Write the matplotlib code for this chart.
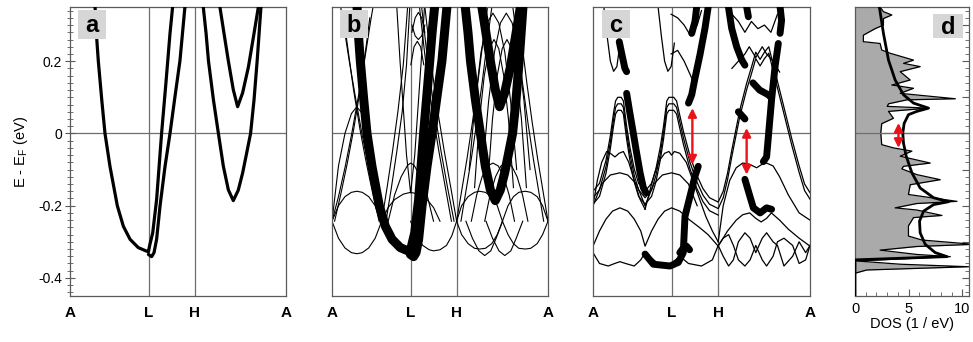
import numpy as np
import matplotlib
matplotlib.use("Agg")
import matplotlib.pyplot as plt
from matplotlib.ticker import MultipleLocator
from matplotlib.patches import Rectangle

plt.rcParams['font.family'] = ['Liberation Sans', 'DejaVu Sans']

K_L, K_H = 0.364, 0.577
PATH_TICKS = [0.0, K_L, K_H, 1.0]
PATH_LABELS = ["A", "L", "H", "A"]
YLIM = (-0.45, 0.35)

# unperturbed bands (panel a, bold bands of panel b): (k, E)
BANDS_A = [
    ([0.116, 0.122, 0.131, 0.147, 0.162, 0.185, 0.219, 0.247, 0.278, 0.316, 0.355, 0.363,
      0.370, 0.383, 0.401, 0.424, 0.444, 0.463, 0.475],
     [0.350, 0.277, 0.201, 0.093, 0.000, -0.091, -0.200, -0.257, -0.293, -0.316, -0.326, -0.327,
      -0.307, -0.275, -0.183, 0.000, 0.139, 0.277, 0.350]),
    ([0.363, 0.378, 0.389, 0.401, 0.417, 0.440, 0.463, 0.486, 0.509, 0.532],
     [-0.335, -0.341, -0.330, -0.293, -0.200, -0.091, 0.000, 0.102, 0.201, 0.350]),
    ([0.617, 0.630, 0.641, 0.664, 0.687, 0.710, 0.733, 0.756, 0.779, 0.799, 0.818, 0.836, 0.852, 0.867, 0.884],
     [0.350, 0.277, 0.201, 0.093, 0.000, -0.091, -0.156, -0.186, -0.157, -0.110, -0.054, 0.000, 0.093, 0.205, 0.350]),
    ([0.694, 0.713, 0.733, 0.756, 0.776, 0.799, 0.826, 0.852, 0.872],
     [0.350, 0.277, 0.201, 0.121, 0.074, 0.112, 0.184, 0.277, 0.350]),
]

# folded supercell bands (panel b)
K9A = [0.0, 0.03, 0.06, 0.09, 0.115, 0.14, 0.17, 0.20, 0.23]
K9L = [0.23, 0.26, 0.29, 0.33, 0.364, 0.40, 0.44, 0.47, 0.50]
K9LH = [0.364, 0.39, 0.42, 0.45, 0.47, 0.50, 0.53, 0.555, 0.577]
K9R1 = [0.577, 0.60, 0.63, 0.66, 0.683, 0.71, 0.74, 0.765, 0.789]
K9R2 = [0.789, 0.815, 0.84, 0.865, 0.895, 0.92, 0.95, 0.975, 1.0]
BOWL = [-0.243, -0.29, -0.317, -0.33, -0.333, -0.33, -0.317, -0.29, -0.243]
BOWL_R = [-0.243, -0.28, -0.305, -0.318, -0.32, -0.318, -0.305, -0.28, -0.243]
CAP_LOW = [-0.243, -0.2, -0.175, -0.163, -0.16, -0.163, -0.175, -0.2, -0.243]
RISE_E = [-0.243, -0.16, -0.07, 0.03, 0.14, 0.26, 0.35]
STEEP_E = [-0.243, -0.15, -0.05, 0.06, 0.19, 0.35]
TOPCAP_E = [-0.1, 0.089, 0.225, 0.306, 0.333, 0.306, 0.225, 0.089, -0.1]
MIDCAP_E = [-0.15, 0.04, 0.16, 0.235, 0.26, 0.235, 0.16, 0.04, -0.15]
BANDS_B = [
    (K9A, BOWL), (K9A, CAP_LOW),
    (K9A, [-0.243, -0.09, 0.0, 0.055, 0.074, 0.055, 0.0, -0.09, -0.243]),
    ([0.0, 0.03, 0.06, 0.09, 0.12, 0.15, 0.18, 0.19], [-0.243, -0.175, -0.095, -0.005, 0.095, 0.2, 0.315, 0.35]),
    ([0.23, 0.2, 0.17, 0.14, 0.11, 0.08, 0.05, 0.04], [-0.243, -0.175, -0.095, -0.005, 0.095, 0.2, 0.315, 0.35]),
    ([0.012, 0.04, 0.07, 0.10, 0.13, 0.16, 0.175], [-0.243, -0.17, -0.085, 0.01, 0.12, 0.25, 0.32]),
    ([0.218, 0.19, 0.16, 0.13, 0.10, 0.07, 0.055], [-0.243, -0.17, -0.085, 0.01, 0.12, 0.25, 0.32]),
    (K9L, [-0.243, -0.205, -0.183, -0.168, -0.163, -0.168, -0.183, -0.205, -0.243]),
    ([0.26, 0.29, 0.32, 0.35, 0.364, 0.38, 0.41, 0.44, 0.47], [-0.243, -0.17, -0.12, -0.088, -0.082, -0.088, -0.12, -0.17, -0.243]),
    ([0.23, 0.255, 0.28, 0.305, 0.33, 0.35], STEEP_E),
    ([0.25, 0.275, 0.30, 0.325, 0.345, 0.36], STEEP_E),
    ([0.577, 0.55, 0.52, 0.49, 0.46, 0.43], STEEP_E),
    ([0.565, 0.535, 0.505, 0.475, 0.445, 0.415], STEEP_E),
    ([0.553, 0.525, 0.495, 0.465, 0.435, 0.405], STEEP_E),
    ([0.30, 0.315, 0.33, 0.345, 0.364, 0.383, 0.398, 0.413, 0.428], [0.35, 0.2, 0.07, -0.06, -0.165, -0.06, 0.07, 0.2, 0.35]),
    ([0.37, 0.385, 0.40, 0.415, 0.43], [0.28, 0.32, 0.335, 0.32, 0.28]),
    ([0.37, 0.385, 0.40, 0.415, 0.43], [0.30, 0.27, 0.26, 0.27, 0.30]),
    ([0.365, 0.38, 0.395, 0.41, 0.425], [0.19, 0.24, 0.255, 0.24, 0.19]),
    (K9LH, [-0.243, -0.283, -0.31, -0.322, -0.325, -0.322, -0.31, -0.283, -0.243]),
    (K9R1, BOWL_R), (K9R2, BOWL_R), (K9R1, CAP_LOW), (K9R2, CAP_LOW),
    ([0.62, 0.65, 0.68, 0.707, 0.735, 0.76, 0.79], [-0.243, -0.29, -0.325, -0.338, -0.325, -0.29, -0.243]),
    ([0.713, 0.743, 0.773, 0.80, 0.828, 0.853, 0.883], [-0.243, -0.29, -0.325, -0.338, -0.325, -0.29, -0.243]),
    ([0.645, 0.67, 0.695, 0.72, 0.745, 0.77, 0.795, 0.82, 0.845], [-0.243, -0.17, -0.12, -0.09, -0.082, -0.09, -0.12, -0.17, -0.243]),
    ([0.707, 0.732, 0.757, 0.782, 0.807, 0.832, 0.857, 0.882, 0.907], [-0.243, -0.17, -0.12, -0.09, -0.082, -0.09, -0.12, -0.17, -0.243]),
    ([0.577, 0.60, 0.625, 0.65, 0.675, 0.70, 0.72], RISE_E),
    ([0.597, 0.62, 0.645, 0.67, 0.695, 0.72, 0.74], RISE_E),
    ([1.0, 0.977, 0.952, 0.927, 0.902, 0.877, 0.857], RISE_E),
    ([0.98, 0.957, 0.932, 0.907, 0.882, 0.857, 0.837], RISE_E),
    ([0.635, 0.663, 0.69, 0.718, 0.745, 0.772, 0.80, 0.827, 0.855], TOPCAP_E),
    ([0.697, 0.725, 0.752, 0.78, 0.807, 0.834, 0.862, 0.889, 0.917], TOPCAP_E),
    ([0.66, 0.683, 0.705, 0.728, 0.75, 0.772, 0.795, 0.817, 0.84], MIDCAP_E),
    ([0.72, 0.743, 0.765, 0.788, 0.81, 0.832, 0.855, 0.877, 0.90], MIDCAP_E),
]

# bands with impurity potential (panel c): thin lines
K_ZIG = [0.0, 0.03, 0.06, 0.08, 0.095, 0.104, 0.114, 0.13, 0.14, 0.155, 0.17, 0.19, 0.21, 0.24,
         0.27, 0.29, 0.31, 0.325, 0.34, 0.35, 0.372, 0.385, 0.417, 0.447, 0.477, 0.507, 0.537,
         0.577, 0.60, 0.62, 0.64, 0.677, 0.708, 0.731, 0.75, 0.77, 0.79, 0.81, 0.833, 0.871,
         0.917, 0.95, 0.975, 1.0]
E_ZIG1 = [-0.16, -0.138, -0.074, -0.006, 0.058, 0.09, 0.1, 0.1, 0.09, 0.02, -0.038, -0.098, -0.138, -0.16,
          -0.138, -0.098, -0.038, 0.02, 0.09, 0.1, 0.1, 0.09, 0.005, -0.062, -0.114, -0.153, -0.178,
          -0.19, -0.16, -0.11, -0.045, 0.066, 0.139, 0.185, 0.225, 0.205, 0.225, 0.24, 0.185, 0.094,
          -0.017, -0.09, -0.14, -0.164]
E_ZIG2 = [-0.178, -0.156, -0.092, -0.024, 0.04, 0.072, 0.082, 0.082, 0.072, 0.002, -0.056, -0.116, -0.156, -0.178,
          -0.156, -0.116, -0.056, 0.002, 0.072, 0.082, 0.082, 0.072, -0.013, -0.08, -0.132, -0.171, -0.196,
          -0.208, -0.178, -0.128, -0.063, 0.048, 0.121, 0.167, 0.207, 0.187, 0.207, 0.222, 0.167, 0.076,
          -0.035, -0.108, -0.158, -0.182]
K_ZIG3 = [0.0, 0.03, 0.06, 0.08, 0.095, 0.104, 0.114, 0.13, 0.14, 0.155, 0.17, 0.19, 0.21, 0.24,
          0.27, 0.29, 0.31, 0.325, 0.34, 0.35, 0.372, 0.385, 0.417, 0.447, 0.477, 0.507, 0.537, 0.577]
E_ZIG3 = [-0.196, -0.174, -0.11, -0.042, 0.022, 0.054, 0.064, 0.064, 0.054, -0.016, -0.074, -0.134, -0.174,
          -0.196, -0.174, -0.134, -0.074, -0.016, 0.054, 0.064, 0.064, 0.054, -0.031, -0.098, -0.15,
          -0.189, -0.214, -0.226]
K_CAPZ = [0.0, 0.03, 0.06, 0.09, 0.124, 0.16, 0.19, 0.22, 0.24, 0.27, 0.30, 0.33, 0.362, 0.40, 0.44,
          0.49, 0.53, 0.577, 0.62, 0.66, 0.69, 0.722, 0.75, 0.775, 0.80, 0.822, 0.86, 0.90, 0.95, 1.0]
E_CAPZ = [-0.312, -0.27, -0.237, -0.215, -0.206, -0.215, -0.237, -0.27, -0.312, -0.27, -0.237, -0.215,
          -0.206, -0.215, -0.237, -0.26, -0.28, -0.312, -0.27, -0.24, -0.225, -0.22, -0.235, -0.245,
          -0.235, -0.22, -0.24, -0.265, -0.29, -0.312]
K_WAVE = [0.0, 0.03, 0.07, 0.10, 0.124, 0.15, 0.19, 0.22, 0.24, 0.27, 0.30, 0.33, 0.36, 0.40, 0.44, 0.50,
          0.55, 0.577, 0.60, 0.625, 0.647, 0.67, 0.70, 0.724, 0.75, 0.78, 0.80, 0.83, 0.85, 0.88, 0.92,
          0.95, 0.98, 1.0]
E_WAVE = [-0.33, -0.36, -0.367, -0.36, -0.355, -0.36, -0.367, -0.35, -0.33, -0.345, -0.36, -0.367, -0.36,
          -0.34, -0.36, -0.367, -0.35, -0.31, -0.34, -0.367, -0.35, -0.30, -0.275, -0.29, -0.33, -0.29,
          -0.275, -0.30, -0.31, -0.367, -0.34, -0.30, -0.33, -0.31]
BANDS_C_THIN = [
    (K_ZIG, E_ZIG1), (K_ZIG, E_ZIG2), (K_ZIG3, E_ZIG3), (K_CAPZ, E_CAPZ), (K_WAVE, E_WAVE),
    ([0.577, 0.60, 0.625, 0.647, 0.67, 0.70, 0.724, 0.75, 0.78, 0.80, 0.83, 0.85, 0.88, 0.92, 0.95, 0.98, 1.0],
     [-0.31, -0.29, -0.28, -0.31, -0.35, -0.367, -0.35, -0.31, -0.35, -0.367, -0.34, -0.30, -0.29, -0.31, -0.36, -0.35, -0.31]),
    ([0.0, 0.02, 0.04, 0.063, 0.08, 0.101, 0.12, 0.14, 0.165, 0.19, 0.215, 0.24],
     [-0.2, -0.13, -0.08, -0.05, -0.055, -0.065, -0.055, -0.05, -0.08, -0.13, -0.18, -0.21]),
    ([0.24, 0.27, 0.30, 0.33, 0.35, 0.362, 0.375, 0.40, 0.43, 0.46, 0.49, 0.52, 0.55, 0.577],
     [-0.21, -0.14, -0.08, -0.055, -0.05, -0.06, -0.05, -0.055, -0.08, -0.13, -0.18, -0.23, -0.27, -0.30]),
    ([0.577, 0.60, 0.63, 0.66, 0.69, 0.72, 0.754, 0.78, 0.80, 0.83, 0.86, 0.90, 0.95, 1.0],
     [-0.30, -0.20, -0.13, -0.095, -0.082, -0.085, -0.095, -0.085, -0.082, -0.09, -0.12, -0.17, -0.22, -0.24]),
    ([0.0, 0.04, 0.08, 0.124, 0.16, 0.20, 0.24], [-0.2, -0.14, -0.115, -0.109, -0.115, -0.14, -0.2]),
    ([0.24, 0.28, 0.32, 0.362, 0.40, 0.44, 0.48], [-0.2, -0.14, -0.115, -0.109, -0.115, -0.14, -0.2]),
    ([0.05, 0.065, 0.08, 0.095, 0.11, 0.125], [0.35, 0.27, 0.2, 0.172, 0.185, 0.25]),
    ([0.30, 0.315, 0.33, 0.345, 0.36, 0.375], [0.35, 0.27, 0.2, 0.172, 0.185, 0.25]),
    ([0.36, 0.39, 0.42, 0.45, 0.48, 0.50], [0.33, 0.32, 0.30, 0.27, 0.30, 0.34]),
    ([0.36, 0.39, 0.42, 0.45, 0.47], [0.22, 0.23, 0.20, 0.16, 0.13]),
    ([0.64, 0.67, 0.70, 0.73, 0.76, 0.79, 0.82, 0.85], [0.33, 0.31, 0.28, 0.31, 0.29, 0.30, 0.28, 0.33]),
    ([0.64, 0.67, 0.70, 0.72, 0.75, 0.78, 0.80, 0.83, 0.86], [0.18, 0.20, 0.22, 0.24, 0.21, 0.24, 0.22, 0.20, 0.17]),
]

# panel c: bold (strong spectral weight) segments
BANDS_C_BOLD = [
    ([0.121, 0.132, 0.147, 0.155], [0.254, 0.222, 0.180, 0.171]),
    ([0.155, 0.170, 0.186, 0.201, 0.217, 0.232, 0.244], [0.111, 0.056, 0.0, -0.054, -0.109, -0.150, -0.164]),
    ([0.24, 0.278, 0.355, 0.393, 0.416, 0.424, 0.447, 0.470, 0.485],
     [-0.334, -0.362, -0.367, -0.357, -0.330, -0.229, -0.174, -0.118, -0.091]),
    ([0.400, 0.415, 0.431, 0.445], [-0.330, -0.318, -0.312, -0.322]),
    ([0.531, 0.516, 0.493, 0.470, 0.455, 0.440], [0.351, 0.291, 0.218, 0.153, 0.107, 0.084]),
    ([0.478, 0.470, 0.455], [0.351, 0.310, 0.277]),
    ([0.624, 0.639, 0.662, 0.685, 0.700], [0.351, 0.291, 0.240, 0.204, 0.189]),
    ([0.708, 0.716], [0.351, 0.323]),
    ([0.862, 0.869, 0.862], [0.351, 0.313, 0.277]),
    ([0.854, 0.839, 0.823, 0.808, 0.800, 0.785], [0.249, 0.185, 0.094, -0.010, -0.065, -0.078]),
    ([0.737, 0.768, 0.808, 0.816], [0.140, 0.120, 0.107, 0.102]),
    ([0.670, 0.700], [0.060, 0.040]),
    ([0.700, 0.723, 0.739, 0.770, 0.800, 0.823], [-0.127, -0.174, -0.206, -0.220, -0.206, -0.210]),
]

# gap arrows: (k, E_top, E_bottom)
GAPS_C = [(0.458, 0.070, -0.086), (0.708, 0.015, -0.114)]

# density of states (1/eV) vs energy
DOS_E = [0.350, 0.337, 0.328, 0.318, 0.300, 0.290, 0.272, 0.254, 0.249, 0.231, 0.222, 0.203, 0.194,
         0.185, 0.171, 0.148, 0.134, 0.125, 0.111, 0.096, 0.093, 0.082, 0.075, 0.070, 0.061, 0.042,
         0.027, 0.001, -0.031, -0.040, -0.049, -0.063, -0.082, -0.091, -0.098, -0.114, -0.128, -0.142,
         -0.169, -0.188, -0.194, -0.206, -0.212, -0.227, -0.233, -0.256, -0.284, -0.295, -0.307,
         -0.313, -0.323, -0.335, -0.341, -0.353, -0.362, -0.369, -0.378, -0.387, -0.45]
DOS_TOTAL = [2.34, 2.65, 3.43, 2.65, 2.65, 1.87, 0.78, 0.78, 2.34, 2.49, 3.27, 5.45, 4.52,
             6.07, 4.21, 5.14, 3.43, 5.45, 4.21, 9.35, 4.83, 3.12, 3.0, 6.85, 3.12, 3.58,
             2.49, 2.40, 2.49, 3.58, 5.30, 4.21, 7.01, 4.52, 4.36, 5.76, 7.94, 5.14,
             4.98, 9.50, 5.76, 3.74, 5.76, 8.10, 5.45, 4.98, 4.98, 6.23, 11.06,
             5.76, 2.34, 5.76, 8.88, 0.16, 4.2, 10.59, 1.09, 0.0, 0.0]
DOS0_E = [0.350, 0.277, 0.203, 0.148, 0.107, 0.084, 0.070, 0.061, 0.052, 0.028, 0.001, -0.027,
          -0.063, -0.109, -0.151, -0.178, -0.189, -0.197, -0.215, -0.243, -0.275, -0.307, -0.330,
          -0.341, -0.350, -0.45]
DOS0 = [2.27, 2.65, 3.12, 3.74, 4.52, 5.45, 6.85, 5.76, 4.98, 4.58, 4.45, 4.52,
        4.77, 5.30, 6.07, 7.32, 8.72, 7.32, 6.39, 6.01, 6.07, 6.54, 7.48,
        8.57, 0.0, 0.0]
GAP_D = (4.05, 0.029, -0.040)

SPINE = "#5a5a5a"
GRID = "#6e6e6e"
H_FIG, W_FIG = 342, 973


def add_axes_px(fig, x0, x1, y0=7, y1=296):
    return fig.add_axes([x0 / W_FIG, (H_FIG - y1) / H_FIG, (x1 - x0) / W_FIG, (y1 - y0) / H_FIG])


def style_frame(ax):
    for s in ax.spines.values():
        s.set_color(SPINE)
        s.set_linewidth(0.9)
    ax.axhline(0, color=GRID, lw=0.9, zorder=1)


def tag(ax, letter, x0, x1, y0, y1):
    ax.add_patch(Rectangle((x0, y0), x1 - x0, y1 - y0, transform=ax.transAxes,
                           facecolor="#d6d6d6", edgecolor="none", zorder=10))
    ax.text((x0 + x1) / 2, (y0 + y1) / 2 - 0.005, letter, transform=ax.transAxes, ha="center",
            va="center", fontsize=17, fontweight="bold", zorder=11)


def band_panel(ax):
    ax.set_xlim(0, 1)
    ax.set_ylim(*YLIM)
    style_frame(ax)
    for k in (K_L, K_H):
        ax.axvline(k, color=GRID, lw=0.9, zorder=1)
    ax.set_xticks(PATH_TICKS)
    ax.set_xticklabels(PATH_LABELS, fontsize=11, fontweight="bold")
    ax.tick_params(axis="x", length=0, pad=7)
    ax.set_yticks([])


def gap_arrow(ax, x, e_top, e_bot):
    ax.annotate("", xy=(x, e_top), xytext=(x, e_bot),
                arrowprops=dict(arrowstyle="<|-|>,head_length=0.5,head_width=0.25",
                                color="#e8141a", lw=1.7, shrinkA=0, shrinkB=0), zorder=8)


fig = plt.figure(figsize=(W_FIG / 100, H_FIG / 100), dpi=100)

# a: clean bands
ax = add_axes_px(fig, 70, 286)
band_panel(ax)
for k, e in BANDS_A:
    ax.plot(k, e, color="black", lw=2.3, solid_capstyle="round", zorder=3)
ax.set_yticks([-0.4, -0.2, 0.0, 0.2])
ax.set_yticklabels(["-0.4", "-0.2", "0", "0.2"], fontsize=10)
ax.yaxis.set_minor_locator(MultipleLocator(0.02))
ax.tick_params(axis="y", which="major", direction="inout", length=7, color=SPINE, pad=2)
ax.tick_params(axis="y", which="minor", direction="inout", length=4, color=SPINE)
ax.set_ylabel("E - E$_\\mathregular{F}$ (eV)", fontsize=10.5, labelpad=6)
tag(ax, "a", 0.037, 0.167, 0.889, 0.99)

# b: folded bands with unfolded weight
ax = add_axes_px(fig, 332, 548)
band_panel(ax)
for k, e in BANDS_B:
    ax.plot(k, e, color="black", lw=0.8, zorder=2)
for k, e in BANDS_A:
    ax.plot(k, e, color="black", lw=6.5, solid_capstyle="round", zorder=3)
tag(ax, "b", 0.037, 0.167, 0.892, 0.99)

# c: bands with potential, gaps marked
ax = add_axes_px(fig, 593, 810)
band_panel(ax)
for k, e in BANDS_C_THIN:
    ax.plot(k, e, color="black", lw=0.9, zorder=2)
for k, e in BANDS_C_BOLD:
    ax.plot(k, e, color="black", lw=5.0, solid_capstyle="round", zorder=3)
for k, et, eb in GAPS_C:
    gap_arrow(ax, k, et, eb)
tag(ax, "c", 0.041, 0.171, 0.892, 0.99)

# d: density of states
ax = add_axes_px(fig, 855, 969)
ax.set_xlim(0, 10.62)
ax.set_ylim(*YLIM)
style_frame(ax)
ax.fill_betweenx(DOS_E, 0, DOS_TOTAL, color="#aaaaaa", lw=0, zorder=1.5)
ax.plot(DOS_TOTAL, DOS_E, color="black", lw=0.9, zorder=2)
ax.plot(DOS0, DOS0_E, color="black", lw=2.0, zorder=3)
ax.axhline(0, color=GRID, lw=0.9, zorder=2.5)
gap_arrow(ax, *GAP_D)
ax.set_xticks([0, 5, 10])
ax.set_xticklabels(["0", "5", "10"], fontsize=10.5)
ax.xaxis.set_minor_locator(MultipleLocator(1))
ax.tick_params(axis="x", which="both", direction="in", color=SPINE, pad=4)
ax.tick_params(axis="x", which="major", length=5)
ax.tick_params(axis="x", which="minor", length=3)
ax.yaxis.tick_right()
ax.set_yticks(np.arange(-0.4, 0.35, 0.1))
ax.yaxis.set_minor_locator(MultipleLocator(0.02))
ax.tick_params(axis="y", which="both", direction="in", color=SPINE, labelright=False)
ax.tick_params(axis="y", which="major", length=5)
ax.tick_params(axis="y", which="minor", length=3)
ax.set_xlabel("DOS (1 / eV)", fontsize=10.5, labelpad=1)
tag(ax, "d", 0.681, 0.947, 0.893, 0.975)

fig.savefig("out.png", dpi=100)
